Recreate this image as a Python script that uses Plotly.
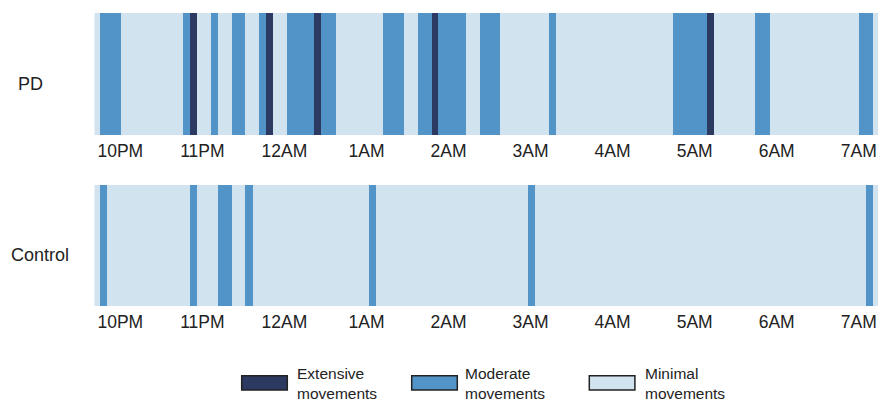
import plotly.graph_objects as go

# Time in minutes after 10PM
tick_vals = [0, 60, 120, 180, 240, 300, 360, 420, 480, 540]
tick_labels = ["10PM", "11PM", "12AM", "1AM", "2AM", "3AM", "4AM", "5AM", "6AM", "7AM"]

groups = ["PD", "Control"]
levels = ["Extensive movements", "Moderate movements", "Minimal movements"]
level_colors = {"Extensive movements": "#2c3a62",
                "Moderate movements": "#5394c8",
                "Minimal movements": "#d1e3ef"}

pd_start = [-19.3, -14.9, 0.4, 45.6, 50.9, 55.8, 66.0, 70.7, 81.1, 91.1, 101.4, 106.3,
            111.1, 121.6, 141.6, 146.5, 157.0, 191.8, 206.9, 217.4, 227.2, 232.3, 252.6,
            262.5, 277.6, 313.3, 317.9, 404.0, 428.8, 434.0, 464.1, 474.4, 540.2, 549.9]
pd_end = [-14.9, 0.4, 45.6, 50.9, 55.8, 66.0, 70.7, 81.1, 91.1, 101.4, 106.3, 111.1,
          121.6, 141.6, 146.5, 157.0, 191.8, 206.9, 217.4, 227.2, 232.3, 252.6, 262.5,
          277.6, 313.3, 317.9, 404.0, 428.8, 434.0, 464.1, 474.4, 540.2, 549.9, 554.1]
pd_level = ["Minimal", "Moderate", "Minimal", "Moderate", "Extensive", "Minimal", "Moderate",
            "Minimal", "Moderate", "Minimal", "Moderate", "Extensive", "Minimal", "Moderate",
            "Extensive", "Moderate", "Minimal", "Moderate", "Minimal", "Moderate", "Extensive",
            "Moderate", "Minimal", "Moderate", "Minimal", "Moderate", "Minimal", "Moderate",
            "Extensive", "Minimal", "Moderate", "Minimal", "Moderate", "Minimal"]

ctrl_start = [-19.3, -14.9, -10.0, 50.9, 55.8, 70.9, 81.1, 91.1, 96.3, 181.6, 186.9,
              297.6, 303.0, 544.6, 549.9]
ctrl_end = [-14.9, -10.0, 50.9, 55.8, 70.9, 81.1, 91.1, 96.3, 181.6, 186.9, 297.6,
            303.0, 544.6, 549.9, 554.1]
ctrl_level = ["Minimal", "Moderate", "Minimal", "Moderate", "Minimal", "Moderate", "Minimal",
              "Moderate", "Minimal", "Moderate", "Minimal", "Moderate", "Minimal", "Moderate",
              "Minimal"]

W, H = 878, 403
fig = go.Figure()

panels = [("PD", pd_start, pd_end, pd_level, "x", "y"),
          ("Control", ctrl_start, ctrl_end, ctrl_level, "x2", "y2")]

for name, starts, ends, lvls, xa, ya in panels:
    for lv in levels:
        key = lv.split()[0]
        idx = [i for i, l in enumerate(lvls) if l == key]
        if not idx:
            continue
        fig.add_trace(go.Bar(
            orientation="h",
            y=[name] * len(idx),
            base=[starts[i] for i in idx],
            x=[ends[i] - starts[i] for i in idx],
            width=1,
            marker=dict(color=level_colors[lv], line=dict(width=0)),
            name=lv, showlegend=False, xaxis=xa, yaxis=ya,
        ))

x_dom = [94.5 / W, 1.0]
axis_common = dict(range=[-18.9, 554.1], tickmode="array", tickvals=tick_vals,
                   ticktext=tick_labels, showgrid=False, zeroline=False, showline=False,
                   ticks="", ticklabelstandoff=3, ticklabeloverflow="allow",
                   tickfont=dict(family="Liberation Sans, Arial", size=17.5, color="#222"),
                   fixedrange=True, automargin=False, domain=x_dom)
yaxis_common = dict(range=[-0.5, 0.5], showticklabels=False, showgrid=False, zeroline=False,
                    showline=False, ticks="", fixedrange=True, automargin=False)

fig.update_layout(
    width=W, height=H,
    margin=dict(l=0, r=0, t=0, b=0),
    paper_bgcolor="white", plot_bgcolor="white",
    barmode="overlay", bargap=0,
    showlegend=False,
    xaxis=dict(anchor="y", **axis_common),
    yaxis=dict(domain=[1 - 135 / H, 1 - 13 / H], anchor="x", **yaxis_common),
    xaxis2=dict(anchor="y2", **axis_common),
    yaxis2=dict(domain=[1 - 306 / H, 1 - 185 / H], anchor="x2", **yaxis_common),
    font=dict(family="Liberation Sans, Arial", color="#222"),
)

# group labels
label_pos = {"PD": (30.5, 83.5), "Control": (40, 255)}
for g in groups:
    px, py = label_pos[g]
    fig.add_annotation(text=g, x=px / W, y=1 - py / H, xref="paper", yref="paper",
                       showarrow=False, xanchor="center", yanchor="middle",
                       font=dict(size=18, color="#222"))

# custom legend
legend_box_x = [241.7, 411.7, 589.3]
legend_text_x = [295, 463.3, 642.7]
for lv, bx, tx in zip(levels, legend_box_x, legend_text_x):
    fig.add_shape(type="rect", xref="paper", yref="paper",
                  x0=bx / W, x1=(bx + 45.6) / W, y0=1 - 390 / H, y1=1 - 375.7 / H,
                  fillcolor=level_colors[lv], line=dict(color="#222", width=1.5))
    w1, w2 = lv.split()
    fig.add_annotation(text=f"{w1}<br>{w2}", x=tx / W, y=1 - 383.5 / H,
                       xref="paper", yref="paper", showarrow=False,
                       xanchor="left", yanchor="middle", align="left",
                       font=dict(size=15.5, color="#222"))

fig.write_html("out.html", config={"displayModeBar": False},
               post_script="document.body.style.margin='0';document.body.style.overflow='hidden';")
